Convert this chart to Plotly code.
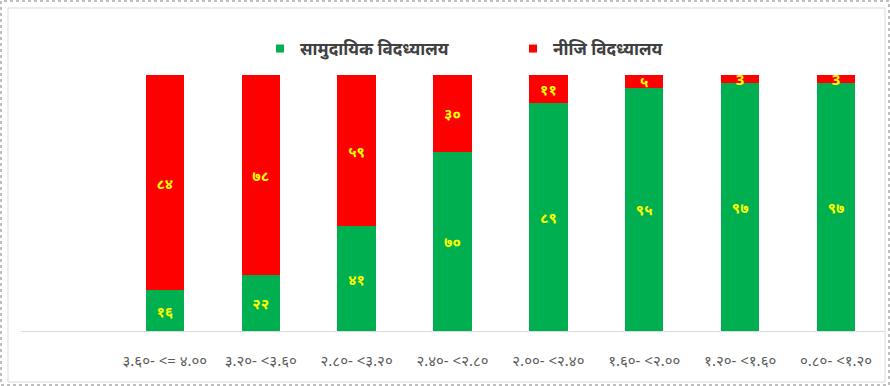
import plotly.graph_objects as go

categories = ["३.६०- <= ४.००", "३.२०- <३.६०", "२.८०- <३.२०", "२.४०- <२.८०",
              "२.००- <२.४०", "१.६०- <२.००", "१.२०- <१.६०", "०.८०- <१.२०"]
community = [16, 22, 41, 70, 89, 95, 97, 97]
private = [84, 78, 59, 30, 11, 5, 3, 3]
community_labels = ["१६", "२२", "४१", "७०", "८९", "९५", "९७", "९७"]
private_labels = ["८४", "७८", "५९", "३०", "११", "५", "3", "3"]
series_names = ["सामुदायिक विदध्यालय", "नीजि विदध्यालय"]

GREEN = "#00B050"
RED = "#FF0000"
FONT = "Noto Sans, DejaVu Sans, sans-serif"

fig = go.Figure()
for vals, labels, color in [(community, community_labels, GREEN), (private, private_labels, RED)]:
    fig.add_trace(go.Bar(
        x=categories, y=vals, text=labels, marker=dict(color=color, line=dict(width=0)),
        textposition="inside", insidetextanchor="middle", textangle=0,
        textfont=dict(color="#FFFF00", size=15, family=FONT, weight="bold"),
        showlegend=False, hoverinfo="skip", cliponaxis=False,
    ))
# legend entries
for name, color in zip(series_names, [GREEN, RED]):
    fig.add_trace(go.Scatter(x=[None], y=[None], mode="markers", name=name,
                             marker=dict(symbol="square", size=8, color=color)))

L, R, T, B = 21, 6, 75, 55
W, H = 890, 386
pw, ph = W - L - R, H - T - B
def px(x): return (x - L) / pw
def py(y): return (H - B - y) / ph

fig.update_layout(
    width=W, height=H, barmode="stack", bargap=0.6,
    margin=dict(l=L, r=R, t=T, b=B),
    paper_bgcolor="white", plot_bgcolor="white",
    uniformtext=dict(minsize=15, mode="show"),
    font=dict(family=FONT),
    legend=dict(orientation="h", x=px(260), y=py(49), xanchor="left", yanchor="middle",
                traceorder="normal",
                font=dict(size=17, color="#404040", family=FONT, weight="bold"),
                entrywidth=208, itemwidth=30, bgcolor="rgba(0,0,0,0)"),
    xaxis=dict(type="category", range=[-1.5, 7.5], showline=True, linecolor="#D9D9D9",
               linewidth=1, showgrid=False, ticks="", ticklabelstandoff=16,
               tickfont=dict(size=15, color="#595959", family=FONT), fixedrange=True),
    yaxis=dict(range=[0, 100], visible=False, fixedrange=True),
    shapes=[
        dict(type="rect", xref="paper", yref="paper", x0=px(8), x1=px(885), y0=py(382), y1=py(8),
             line=dict(color="#D9D9D9", width=1), layer="below"),
        dict(type="rect", xref="paper", yref="paper", x0=px(1), x1=px(889), y0=py(385), y1=py(1),
             line=dict(color="#7F7F7F", width=1, dash="dot"), layer="below"),
    ],
)
fig.write_html("out.html", config={"displayModeBar": False},
               post_script="document.body.style.margin='0';document.body.style.overflow='hidden';")
